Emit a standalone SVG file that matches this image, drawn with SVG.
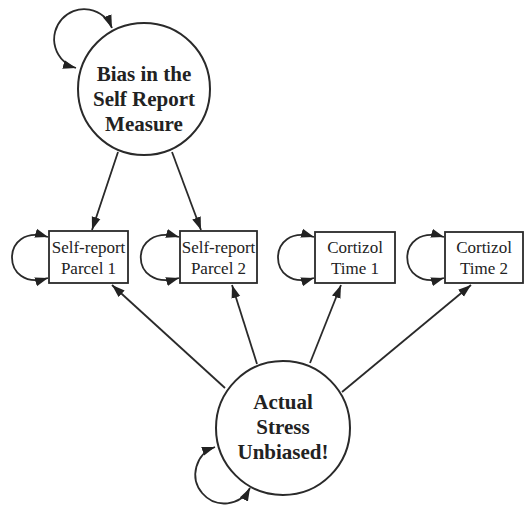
<svg xmlns="http://www.w3.org/2000/svg" width="526" height="506" viewBox="0 0 526 506">
<style>
.node{fill:#fff;stroke:#2a2a2a;stroke-width:2}
.box{fill:#fff;stroke:#2a2a2a;stroke-width:1.8}
.lat{font-family:"Liberation Serif","Times New Roman",serif;font-weight:bold;font-size:21px;fill:#222;text-anchor:middle}
.obs{font-family:"Liberation Serif","Times New Roman",serif;font-size:17px;fill:#222;text-anchor:middle}
.c{fill:none;stroke:#2a2a2a;stroke-width:1.8}
.a{marker-end:url(#ah)}
.v{marker-start:url(#ah);marker-end:url(#ah)}
</style>
<defs>
<marker id="ah" markerUnits="userSpaceOnUse" markerWidth="14" markerHeight="10" refX="13" refY="5" orient="auto-start-reverse">
<path d="M0,0.5 L13,5 L0,9.5 Z" fill="#222"/>
</marker>
</defs>
<g id="connectors">
<path class="c a" d="M118,152 L92,230"/>
<path class="c a" d="M172,152 L201,230"/>
<path class="c a" d="M225,388 L112,285"/>
<path class="c a" d="M257,364 L232,285"/>
<path class="c a" d="M310,363 L341,285"/>
<path class="c a" d="M342,392 L471,285"/>
<path class="c v" d="M112,28 A30,30 0 1 0 76,68"/>
<path class="c v" d="M215,447 A29,29 0 1 0 250,488"/>
<path class="c v" d="M48,237 C0,222 0,293 48,278"/>
<path class="c v" d="M179,237 C128,222 128,293 179,278"/>
<path class="c v" d="M314,237 C266,222 266,293 314,278"/>
<path class="c v" d="M444,237 C395,222 395,293 444,278"/>
</g>
<g id="bias">
<circle class="node" cx="144" cy="89" r="66"/>
<text class="lat" x="144" y="81">Bias in the</text>
<text class="lat" x="144" y="106">Self Report</text>
<text class="lat" x="144" y="131">Measure</text>
</g>
<g id="sr1">
<rect class="box" x="49" y="231" width="79" height="52"/>
<text class="obs" x="88.5" y="253">Self-report</text>
<text class="obs" x="88.5" y="274">Parcel 1</text>
</g>
<g id="sr2">
<rect class="box" x="180" y="231" width="77" height="52"/>
<text class="obs" x="218.5" y="253">Self-report</text>
<text class="obs" x="218.5" y="274">Parcel 2</text>
</g>
<g id="ct1">
<rect class="box" x="315" y="232" width="80" height="51"/>
<text class="obs" x="355" y="253">Cortizol</text>
<text class="obs" x="355" y="274">Time 1</text>
</g>
<g id="ct2">
<rect class="box" x="445" y="232" width="78" height="51"/>
<text class="obs" x="484" y="253">Cortizol</text>
<text class="obs" x="484" y="274">Time 2</text>
</g>
<g id="stress">
<circle class="node" cx="283" cy="428" r="67"/>
<text class="lat" x="283" y="409">Actual</text>
<text class="lat" x="283" y="434">Stress</text>
<text class="lat" x="283" y="459">Unbiased!</text>
</g>
</svg>
